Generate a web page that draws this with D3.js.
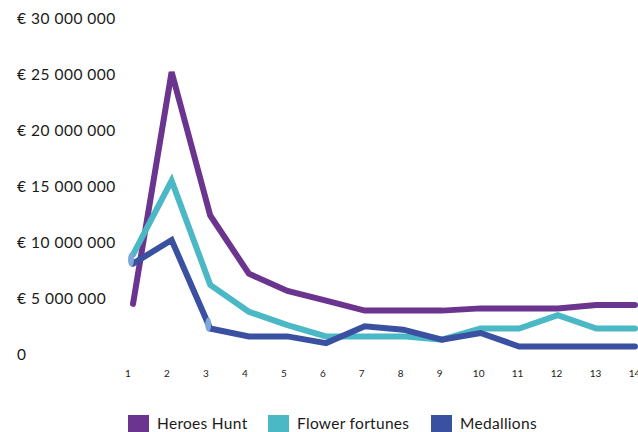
<!DOCTYPE html>
<html>
<head>
<meta charset="utf-8">
<script src="https://cdn.jsdelivr.net/npm/d3@7"></script>
<style>
  html, body { margin: 0; padding: 0; background: #fff; }
  svg { display: block; }
</style>
</head>
<body>
<svg id="chart" width="638" height="432"></svg>
<script>
// Periods along the x axis
const periods = [1, 2, 3, 4, 5, 6, 7, 8, 9, 10, 11, 12, 13, 14];

// Series values (euros)
const heroesHunt = [4.5e6, 25.2e6, 12.4e6, 7.2e6, 5.65e6, 4.8e6, 3.9e6, 3.9e6, 3.9e6, 4.1e6, 4.1e6, 4.1e6, 4.4e6, 4.4e6];
const flowerFortunes = [8.9e6, 15.5e6, 6.2e6, 3.8e6, 2.6e6, 1.6e6, 1.6e6, 1.6e6, 1.3e6, 2.3e6, 2.3e6, 3.5e6, 2.3e6, 2.3e6];
const medallions = [8.1e6, 10.2e6, 2.3e6, 1.6e6, 1.6e6, 1.0e6, 2.5e6, 2.2e6, 1.3e6, 1.9e6, 0.7e6, 0.7e6, 0.7e6, 0.7e6];

// Y axis tick values and labels
const yTicks = [0, 5e6, 10e6, 15e6, 20e6, 25e6, 30e6];
const yTickLabels = ["0", "€ 5 000 000", "€ 10 000 000", "€ 15 000 000", "€ 20 000 000", "€ 25 000 000", "€ 30 000 000"];

// Series names and colours
const seriesNames = ["Heroes Hunt", "Flower fortunes", "Medallions"];
const seriesColors = ["#6b348e", "#4bb8c5", "#3a50a0"];

// Highlighted points: [series index, period]
const highlights = [[2, 1], [2, 3]];

const svg = d3.select("#chart");
const seriesValues = [heroesHunt, flowerFortunes, medallions];

const x = d3.scaleLinear().domain([1, 14]).range([133, 635]);
const xLabel = d3.scaleLinear().domain([1, 14]).range([128, 634.5]);
const y = d3.scaleLinear().domain([0, 30e6]).range([354.3, 18.3]);

// Y axis labels (left aligned, no axis line)
svg.append("g")
  .selectAll("text")
  .data(yTicks)
  .join("text")
  .attr("x", 17)
  .attr("y", d => y(d))
  .attr("dy", "0.35em")
  .attr("font-family", "Lato, sans-serif")
  .attr("font-size", 15.5)
  .attr("letter-spacing", 0.5)
  .attr("fill", "#1a1a1a")
  .text((d, i) => yTickLabels[i]);

// X axis labels
svg.append("g")
  .selectAll("text")
  .data(periods)
  .join("text")
  .attr("x", d => xLabel(d))
  .attr("y", 373)
  .attr("dy", "0.35em")
  .attr("text-anchor", "middle")
  .attr("font-family", "Lato, sans-serif")
  .attr("font-size", 10)
  .attr("fill", "#1a1a1a")
  .text(d => d);

// Lines
const line = d3.line()
  .x((d, i) => x(periods[i]))
  .y(d => y(d));

svg.append("g")
  .selectAll("path")
  .data(seriesValues)
  .join("path")
  .attr("d", d => line(d))
  .attr("fill", "none")
  .attr("stroke", (d, i) => seriesColors[i])
  .attr("stroke-width", 6)
  .attr("stroke-linejoin", "miter")
  .attr("stroke-linecap", "round");

// Highlight markers on selected points
svg.append("g")
  .selectAll("ellipse")
  .data(highlights)
  .join("ellipse")
  .attr("cx", d => x(d[1]) - 2)
  .attr("cy", d => y(seriesValues[d[0]][d[1] - 1]) - 4)
  .attr("rx", 3)
  .attr("ry", 7)
  .attr("fill", "#7ea7dc");

// Legend
const legendX = [128, 268, 431];
const legend = svg.append("g")
  .selectAll("g")
  .data(seriesNames)
  .join("g")
  .attr("transform", (d, i) => `translate(${legendX[i]},415)`);

legend.append("rect")
  .attr("width", 21)
  .attr("height", 17)
  .attr("fill", (d, i) => seriesColors[i]);

legend.append("text")
  .attr("x", 29)
  .attr("y", 9)
  .attr("dy", "0.35em")
  .attr("font-family", "Lato, sans-serif")
  .attr("font-size", 15.5)
  .attr("letter-spacing", 0.3)
  .attr("fill", "#1a1a1a")
  .text(d => d);
</script>
</body>
</html>
